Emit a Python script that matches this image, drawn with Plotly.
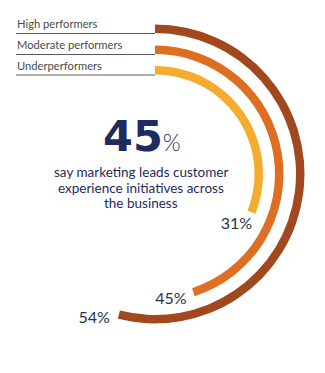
import plotly.graph_objects as go

groups = ["High performers", "Moderate performers", "Underperformers"]
values = [54, 45, 31]
colors = ["#A2481F", "#DE6E21", "#F4AC2F"]
value_labels = ["54%", "45%", "31%"]

headline_value = "45"
headline_text = ["say marketing leads customer", "experience initiatives across", "the business"]

# layout geometry (pixels)
W, H = 325, 373
CX, CY = 155, 174
R = 150
band_inner = [141, 120, 99.5]
band_thick = 8.5
# label anchor positions (radius, angle offset past the arc end, text position)
label_r = [144.2, 127, 96]
label_dtheta = [3.8, 10.8, 10.4]
label_pos = ["bottom left", "middle center", "middle center"]

fig = go.Figure()
for g, v, c, b in zip(groups, values, colors, band_inner):
    span = v * 3.6
    fig.add_trace(go.Barpolar(
        r=[band_thick], base=[b], theta=[span / 2], width=[span],
        marker=dict(color=c, line=dict(width=0)), name=g, showlegend=False,
        hoverinfo="skip"))

for v, t, lr, dt, tp in zip(values, value_labels, label_r, label_dtheta, label_pos):
    fig.add_trace(go.Scatterpolar(
        r=[lr], theta=[v * 3.6 + dt], mode="text", text=[t],
        textfont=dict(family="Lato", size=16, color="#1E3448"),
        textposition=tp, cliponaxis=False, showlegend=False,
        hoverinfo="skip"))

fig.update_layout(
    width=W, height=H, margin=dict(l=0, r=0, t=0, b=0),
    paper_bgcolor="white", plot_bgcolor="white",
    polar=dict(
        domain=dict(x=[(CX - R) / W, (CX + R) / W],
                    y=[(H - CY - R) / H, (H - CY + R) / H]),
        bgcolor="rgba(0,0,0,0)", bargap=0,
        radialaxis=dict(range=[0, R], visible=False, showgrid=False),
        angularaxis=dict(rotation=90, direction="clockwise", visible=False,
                         showgrid=False, thetaunit="degrees"),
    ),
)

# left legend labels with leader lines
for g, b in zip(groups, band_inner):
    y_line = CY - b + 0.5
    fig.add_shape(type="line", xref="paper", yref="paper",
                  x0=16 / W, x1=CX / W, y0=1 - y_line / H, y1=1 - y_line / H,
                  line=dict(color="#5a5a5a", width=1))
    fig.add_annotation(text=g, xref="paper", yref="paper", x=15 / W,
                       y=1 - (y_line - 1) / H, xanchor="left", yanchor="bottom",
                       showarrow=False,
                       font=dict(family="Lato", size=11.2, color="#4a4a4a"))

fig.add_annotation(
    text="<span style='font-family:DejaVu Sans;font-weight:bold'>" + headline_value + "</span>"
         "<span style='font-family:Lato;font-size:23px;font-weight:300'>%</span>",
    xref="paper", yref="paper", x=141.5 / W, y=1 - 136 / H, xanchor="center",
    yanchor="middle", showarrow=False,
    font=dict(family="DejaVu Sans", size=43, color="#1F2B5E"))

for i, line in enumerate(headline_text):
    fig.add_annotation(text=line, xref="paper", yref="paper", x=141 / W,
                       y=1 - (172 + 15.7 * i) / H, xanchor="center", yanchor="middle",
                       showarrow=False,
                       font=dict(family="Lato", size=13.5, color="#1F2B5E"))

fig.write_html("out.html")
